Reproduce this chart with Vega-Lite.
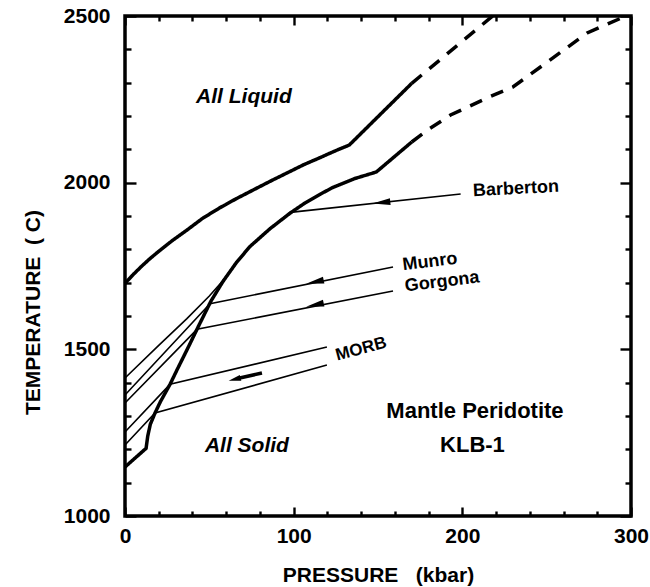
{
  "$schema": "https://vega.github.io/schema/vega-lite/v6.json",
  "width": 506,
  "height": 500,
  "autosize": {"type": "none"},
  "padding": {"left": 125, "top": 16, "right": 19, "bottom": 71},
  "background": "white",
  "config": {
    "view": {"stroke": "black", "strokeWidth": 3.5},
    "font": "Liberation Sans",
    "axis": {
      "domain": false, "grid": false, "ticks": true, "tickColor": "black", "tickWidth": 2.4, "zindex": 1,
      "labelFont": "Liberation Sans", "labelFontWeight": "bold", "labelFontSize": 21, "labelColor": "black",
      "titleFont": "Liberation Sans", "titleFontWeight": "bold", "titleFontSize": 21, "titleColor": "black",
      "labelOverlap": false, "labelFlush": false
    }
  },
  "datasets": {
    "paths": [
      {"path": "Barberton", "p": 0, "t": 1414}, {"path": "Barberton", "p": 20, "t": 1512}, {"path": "Barberton", "p": 36.7, "t": 1592},
      {"path": "Barberton", "p": 50, "t": 1660}, {"path": "Barberton", "p": 58, "t": 1706}, {"path": "Barberton", "p": 66, "t": 1760},
      {"path": "Barberton", "p": 74, "t": 1808}, {"path": "Barberton", "p": 86, "t": 1862},
      {"path": "Barberton", "p": 98, "t": 1911}, {"path": "Barberton", "p": 199, "t": 1966},
      {"path": "Munro", "p": 0, "t": 1363}, {"path": "Munro", "p": 50.4, "t": 1637}, {"path": "Munro", "p": 158.9, "t": 1747},
      {"path": "Gorgona", "p": 0, "t": 1339}, {"path": "Gorgona", "p": 42.7, "t": 1560}, {"path": "Gorgona", "p": 158.9, "t": 1675},
      {"path": "MORB upper", "p": 0, "t": 1252}, {"path": "MORB upper", "p": 26.7, "t": 1395}, {"path": "MORB upper", "p": 119.7, "t": 1507},
      {"path": "MORB lower", "p": 0, "t": 1213}, {"path": "MORB lower", "p": 17.8, "t": 1309}, {"path": "MORB lower", "p": 119.7, "t": 1453}
    ],
    "curves": [
      {"curve": "liquidus", "seg": "measured", "p": 0, "t": 1698}, {"curve": "liquidus", "seg": "measured", "p": 5, "t": 1725},
      {"curve": "liquidus", "seg": "measured", "p": 10, "t": 1750}, {"curve": "liquidus", "seg": "measured", "p": 15, "t": 1773},
      {"curve": "liquidus", "seg": "measured", "p": 20, "t": 1794}, {"curve": "liquidus", "seg": "measured", "p": 28, "t": 1826},
      {"curve": "liquidus", "seg": "measured", "p": 36.8, "t": 1858}, {"curve": "liquidus", "seg": "measured", "p": 46, "t": 1893},
      {"curve": "liquidus", "seg": "measured", "p": 56, "t": 1924}, {"curve": "liquidus", "seg": "measured", "p": 66, "t": 1952},
      {"curve": "liquidus", "seg": "measured", "p": 76, "t": 1978}, {"curve": "liquidus", "seg": "measured", "p": 86, "t": 2004},
      {"curve": "liquidus", "seg": "measured", "p": 96, "t": 2029}, {"curve": "liquidus", "seg": "measured", "p": 106, "t": 2054},
      {"curve": "liquidus", "seg": "measured", "p": 115.6, "t": 2075}, {"curve": "liquidus", "seg": "measured", "p": 124, "t": 2094},
      {"curve": "liquidus", "seg": "measured", "p": 133, "t": 2113}, {"curve": "liquidus", "seg": "measured", "p": 170, "t": 2298},
      {"curve": "liquidus", "seg": "extrapolated", "p": 170, "t": 2298}, {"curve": "liquidus", "seg": "extrapolated", "p": 218, "t": 2500},
      {"curve": "solidus", "seg": "measured", "p": 0, "t": 1147}, {"curve": "solidus", "seg": "measured", "p": 12.5, "t": 1203},
      {"curve": "solidus", "seg": "measured", "p": 13.5, "t": 1240}, {"curve": "solidus", "seg": "measured", "p": 15, "t": 1275},
      {"curve": "solidus", "seg": "measured", "p": 17.8, "t": 1309}, {"curve": "solidus", "seg": "measured", "p": 21, "t": 1343},
      {"curve": "solidus", "seg": "measured", "p": 26.7, "t": 1395}, {"curve": "solidus", "seg": "measured", "p": 31, "t": 1440},
      {"curve": "solidus", "seg": "measured", "p": 36.7, "t": 1498}, {"curve": "solidus", "seg": "measured", "p": 44.5, "t": 1579},
      {"curve": "solidus", "seg": "measured", "p": 51, "t": 1645}, {"curve": "solidus", "seg": "measured", "p": 58, "t": 1703},
      {"curve": "solidus", "seg": "measured", "p": 66, "t": 1760}, {"curve": "solidus", "seg": "measured", "p": 74, "t": 1808},
      {"curve": "solidus", "seg": "measured", "p": 86, "t": 1862}, {"curve": "solidus", "seg": "measured", "p": 98, "t": 1909},
      {"curve": "solidus", "seg": "measured", "p": 107, "t": 1940}, {"curve": "solidus", "seg": "measured", "p": 115.6, "t": 1965},
      {"curve": "solidus", "seg": "measured", "p": 123, "t": 1985}, {"curve": "solidus", "seg": "measured", "p": 136, "t": 2012},
      {"curve": "solidus", "seg": "measured", "p": 149, "t": 2032}, {"curve": "solidus", "seg": "measured", "p": 170, "t": 2122},
      {"curve": "solidus", "seg": "extrapolated", "p": 170, "t": 2122}, {"curve": "solidus", "seg": "extrapolated", "p": 180, "t": 2160},
      {"curve": "solidus", "seg": "extrapolated", "p": 193, "t": 2203}, {"curve": "solidus", "seg": "extrapolated", "p": 215, "t": 2255},
      {"curve": "solidus", "seg": "extrapolated", "p": 230, "t": 2287}, {"curve": "solidus", "seg": "extrapolated", "p": 274, "t": 2449},
      {"curve": "solidus", "seg": "extrapolated", "p": 297, "t": 2500}
    ],
    "arrows": [
      {"path": "Barberton", "p": 152, "t": 1940},
      {"path": "Munro", "p": 112.6, "t": 1702},
      {"path": "Gorgona", "p": 112.6, "t": 1633},
      {"path": "MORB", "p": 65, "t": 1410}
    ],
    "morbShaft": [
      {"p": 81.2, "t": 1429}, {"p": 68, "t": 1414}
    ],
    "labels": [
      {"kind": "region", "text": "All  Liquid", "p": 70.5, "t": 2257},
      {"kind": "region", "text": "All  Solid", "p": 72.3, "t": 1210},
      {"kind": "sample", "text": "Mantle Peridotite", "p": 207.5, "t": 1315},
      {"kind": "sample", "text": "KLB-1", "p": 206, "t": 1213},
      {"kind": "Barberton", "text": "Barberton", "p": 231.8, "t": 1981},
      {"kind": "Munro", "text": "Munro", "p": 180.8, "t": 1762},
      {"kind": "Gorgona", "text": "Gorgona", "p": 188, "t": 1702},
      {"kind": "MORB", "text": "MORB", "p": 140, "t": 1501}
    ]
  },
  "layer": [
    {
      "data": {"name": "paths"},
      "mark": {"type": "line", "color": "black", "strokeWidth": 1.6},
      "encoding": {
        "x": {"field": "p", "type": "quantitative", "scale": {"domain": [0, 300], "nice": false, "zero": false},
          "axis": {"orient": "bottom", "values": [0,20,40,60,80,100,120,140,160,180,200,220,240,260,280,300],
            "tickSize": {"expr": "datum.value % 100 === 0 ? -9 : -5"}, "format": "d",
            "labelExpr": "datum.value % 100 === 0 ? datum.label : ''", "labelPadding": 18,
            "title": "PRESSURE\u00a0\u00a0\u00a0(kbar)", "titlePadding": 14}},
        "y": {"field": "t", "type": "quantitative", "scale": {"domain": [1000, 2500], "nice": false, "zero": false},
          "axis": {"orient": "left", "values": [1000,1100,1200,1300,1400,1500,1600,1700,1800,1900,2000,2100,2200,2300,2400,2500],
            "tickSize": {"expr": "datum.value % 500 === 0 ? -11 : -6"}, "format": "d",
            "labelExpr": "datum.value % 500 === 0 ? datum.label : ''", "labelPadding": 26,
            "title": "TEMPERATURE\u00a0\u00a0(\u00a0C)", "titleX": -82, "titleY": 296}},
        "detail": {"field": "path"}
      }
    },
    {
      "data": {"name": "curves"},
      "mark": {"type": "line", "color": "black", "strokeWidth": 3.5, "strokeCap": "butt"},
      "encoding": {
        "x": {"field": "p", "type": "quantitative", "scale": {"domain": [0, 300], "nice": false, "zero": false},
          "axis": {"orient": "top", "values": [0,20,40,60,80,100,120,140,160,180,200,220,240,260,280,300],
            "tickSize": {"expr": "datum.value % 100 === 0 ? -9 : -5"}, "labels": false, "title": null}},
        "y": {"field": "t", "type": "quantitative", "scale": {"domain": [1000, 2500], "nice": false, "zero": false},
          "axis": {"orient": "right", "values": [1000,1100,1200,1300,1400,1500,1600,1700,1800,1900,2000,2100,2200,2300,2400,2500],
            "tickSize": {"expr": "datum.value % 500 === 0 ? -11 : -6"},
            "labels": false, "title": null}},
        "strokeDash": {"field": "seg", "type": "nominal", "scale": {"domain": ["measured", "extrapolated"], "range": [[1, 0], [13, 10]]}, "legend": null},
        "detail": {"field": "curve"}
      }
    },
    {
      "data": {"name": "morbShaft"},
      "mark": {"type": "line", "color": "black", "strokeWidth": 3.5},
      "encoding": {
        "x": {"field": "p", "type": "quantitative", "axis": null},
        "y": {"field": "t", "type": "quantitative", "axis": null}
      }
    },
    {
      "data": {"name": "arrows"},
      "transform": [{"filter": "datum.path === 'Barberton'"}],
      "mark": {"type": "point", "shape": "M-1,0L1,-0.38L1,0.38Z", "filled": true, "color": "black", "size": 320, "angle": -6, "opacity": 1},
      "encoding": {"x": {"field": "p", "type": "quantitative", "axis": null}, "y": {"field": "t", "type": "quantitative", "axis": null}}
    },
    {
      "data": {"name": "arrows"},
      "transform": [{"filter": "datum.path === 'Munro' || datum.path === 'Gorgona'"}],
      "mark": {"type": "point", "shape": "M-1,0L1,-0.38L1,0.38Z", "filled": true, "color": "black", "size": 320, "angle": -12, "opacity": 1},
      "encoding": {"x": {"field": "p", "type": "quantitative", "axis": null}, "y": {"field": "t", "type": "quantitative", "axis": null}}
    },
    {
      "data": {"name": "arrows"},
      "transform": [{"filter": "datum.path === 'MORB'"}],
      "mark": {"type": "point", "shape": "M-1,0L1,-0.5L1,0.5Z", "filled": true, "color": "black", "size": 150, "angle": -14, "opacity": 1},
      "encoding": {"x": {"field": "p", "type": "quantitative", "axis": null}, "y": {"field": "t", "type": "quantitative", "axis": null}}
    },
    {
      "data": {"name": "labels"},
      "transform": [{"filter": "datum.kind === 'region'"}],
      "mark": {"type": "text", "font": "Liberation Sans", "fontWeight": "bold", "fontStyle": "italic", "fontSize": 21, "color": "black"},
      "encoding": {"x": {"field": "p", "type": "quantitative", "axis": null}, "y": {"field": "t", "type": "quantitative", "axis": null}, "text": {"field": "text"}}
    },
    {
      "data": {"name": "labels"},
      "transform": [{"filter": "datum.kind === 'sample'"}],
      "mark": {"type": "text", "font": "Liberation Sans", "fontWeight": "bold", "fontSize": 22, "color": "black"},
      "encoding": {"x": {"field": "p", "type": "quantitative", "axis": null}, "y": {"field": "t", "type": "quantitative", "axis": null}, "text": {"field": "text"}}
    },
    {
      "data": {"name": "labels"},
      "transform": [{"filter": "datum.kind === 'Barberton'"}],
      "mark": {"type": "text", "font": "Liberation Sans", "fontWeight": "bold", "fontSize": 18, "color": "black", "angle": -3},
      "encoding": {"x": {"field": "p", "type": "quantitative", "axis": null}, "y": {"field": "t", "type": "quantitative", "axis": null}, "text": {"field": "text"}}
    },
    {
      "data": {"name": "labels"},
      "transform": [{"filter": "datum.kind === 'Munro' || datum.kind === 'Gorgona'"}],
      "mark": {"type": "text", "font": "Liberation Sans", "fontWeight": "bold", "fontSize": 18, "color": "black", "angle": -7},
      "encoding": {"x": {"field": "p", "type": "quantitative", "axis": null}, "y": {"field": "t", "type": "quantitative", "axis": null}, "text": {"field": "text"}}
    },
    {
      "data": {"name": "labels"},
      "transform": [{"filter": "datum.kind === 'MORB'"}],
      "mark": {"type": "text", "font": "Liberation Sans", "fontWeight": "bold", "fontSize": 17, "color": "black", "angle": -15},
      "encoding": {"x": {"field": "p", "type": "quantitative", "axis": null}, "y": {"field": "t", "type": "quantitative", "axis": null}, "text": {"field": "text"}}
    }
  ],
  "resolve": {"axis": {"x": "independent", "y": "independent"}}
}
